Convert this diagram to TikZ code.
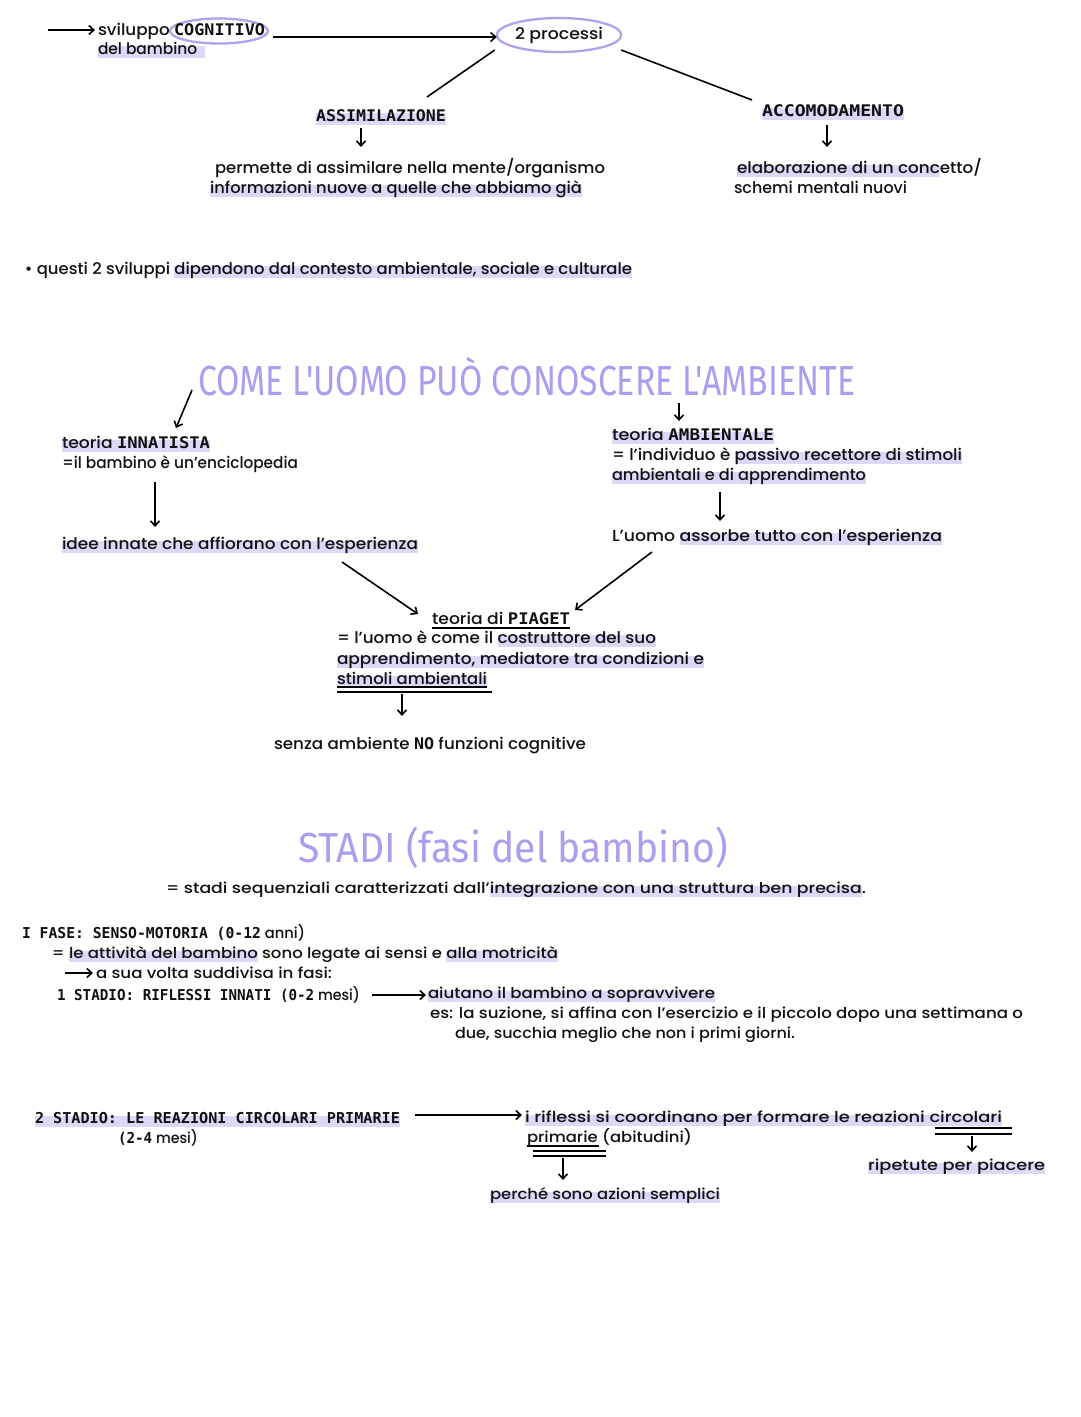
\documentclass[tikz,border=0pt]{standalone}
\usepackage{fontspec}
\setmainfont{Poppins}[UprightFont={* Medium}]
\newfontfamily\monof{DejaVu Sans Mono}
\newfontfamily\titlef{Fira Sans}
\usetikzlibrary{arrows.meta,shapes.geometric,calc}
\definecolor{lav}{HTML}{A99FF0}
\definecolor{hlc}{HTML}{DCD8F8}
\definecolor{ellc}{HTML}{ADA3EE}
\definecolor{ink}{HTML}{111111}
\newlength\hlw
\newcommand\hl[1]{\settowidth{\hlw}{#1}\rlap{\textcolor{hlc}{\rule[-0.45ex]{\hlw}{1.35ex}}}#1}
\newcommand\fw[2]{\resizebox{#1pt}{\height}{\color{ink}#2}}
\newcommand\cp[1]{{\monof\bfseries #1}}
\begin{document}
\begin{tikzpicture}[x=1pt,y=-1pt,
  every node/.style={inner sep=0pt,outer sep=0pt},
  ln/.style={anchor=base west,font=\fontsize{16}{20}\selectfont},
  sm/.style={anchor=base west,font=\fontsize{15}{18}\selectfont},
  ttl/.style={anchor=base west,font=\titlef\fontsize{42}{44}\selectfont},
  arr/.style={line width=1.6pt,-{Straight Barb[length=5pt,width=9pt]}},
  con/.style={line width=1.6pt},
  ell/.style={ellipse,draw=ellc,line width=2.3pt},
  ul/.style={line width=1.3pt},
  ulb/.style={line width=2.4pt}]
\fill[white] (0,0) rectangle (1080,1417);
\useasboundingbox (0,0) rectangle (1080,1417);

% ---------- section 1 ----------
\node[ell,minimum width=98pt,minimum height=25pt] (e1) at (219,31) {};
\node[ln] (s1) at (98,35) {\fw{167}{sviluppo \cp{COGNITIVO}}};
\node[ln] (s2) at (98,54) {\fw{107}{\hl{del bambino\hspace{8pt}}}};
\node[ell,minimum width=108pt,minimum height=34pt,font=\fontsize{16}{20}\selectfont] (p) at (559,35) {\fw{88}{2 processi}};
\coordinate (st) at (48,30);
\node[ln] (a) at (316,121) {\fw{130}{\hl{\cp{ASSIMILAZIONE}}}};
\node[ln] (a1) at (215,173) {\fw{390}{permette di assimilare nella mente/organismo}};
\node[ln] (a2) at (210,193) {\fw{372}{\hl{informazioni nuove a quelle che abbiamo già}}};
\node[ln] (c) at (762,116) {\fw{142}{\hl{\cp{ACCOMODAMENTO}}}};
\node[ln] (c1) at (737,173) {\fw{245}{\hl{elaborazione di un conc}etto/}};
\node[ln] (c2) at (734,193) {\fw{173}{schemi mentali nuovi}};
\node[ln] (q) at (25,274) {\fw{607}{• questi 2 sviluppi \hl{dipendono dal contesto ambientale, sociale e culturale}}};

\draw[arr] (st) -- ($(s1.base west)+(-3,-5)$);
\draw[arr] ($(e1.east)+(5,6)$) -- ($(p.west)+(0,2)$);
\draw[con] ($(p.west)+(-2,15)$) -- ($(a.base west)+(111,-24)$);
\draw[con] ($(p.east)+(0,15)$) -- ($(c.base west)+(-10,-16)$);
\draw[arr] ($(a.base west)+(45,7)$) -- ($(a1.base west)+(146,-26)$);
\draw[arr] ($(c.base west)+(65,9)$) -- ($(c1.base west)+(90,-26)$);

% ---------- section 2 ----------
\node[ttl] (t1) at (198,395) {\resizebox{657pt}{\height}{\color{lav}COME L'UOMO PUÒ CONOSCERE L'AMBIENTE}};
\node[ln] (i1) at (62,448) {\fw{148}{\hl{teoria \cp{INNATISTA}}}};
\node[ln] (i2) at (62,468) {\fw{236}{=il bambino è un'enciclopedia}};
\node[ln] (i3) at (62,549) {\fw{356}{\hl{idee innate che affiorano con l'esperienza}}};
\node[ln] (m1) at (612,440) {\fw{162}{\hl{teoria \cp{AMBIENTALE}}}};
\node[ln] (m2) at (612,460) {\fw{350}{= l'individuo è \hl{passivo recettore di stimoli}}};
\node[ln] (m3) at (612,480) {\fw{254}{\hl{ambientali e di apprendimento}}};
\node[ln] (m4) at (612,541) {\fw{330}{L'uomo \hl{assorbe tutto con l'esperienza}}};
\node[ln] (g1) at (432,624) {\fw{138}{teoria di \cp{PIAGET}}};
\node[ln] (g2) at (337,643) {\fw{319}{= l'uomo è come il \hl{costruttore del suo}}};
\node[ln] (g3) at (337,664) {\fw{367}{\hl{apprendimento, mediatore tra condizioni e}}};
\node[ln] (g4) at (337,684) {\fw{150}{\hl{stimoli ambientali}}};
\node[ln] (g5) at (274,749) {\fw{312}{senza ambiente \cp{NO} funzioni cognitive}};

\draw[arr] ($(t1.base west)+(-6,-5)$) -- ($(i1.base west)+(114,-20)$);
\draw[arr] ($(t1.base west)+(481,8)$) -- ($(m1.base west)+(67,-19)$);
\draw[arr] ($(i2.base west)+(93,14)$) -- ($(i3.base west)+(93,-22)$);
\draw[arr] ($(m3.base west)+(108,12)$) -- ($(m4.base west)+(108,-20)$);
\draw[arr] ($(i3.base west)+(280,13)$) -- ($(g1.base west)+(-14,-10)$);
\draw[arr] ($(m4.base west)+(40,11)$) -- ($(g1.base east)+(5,-14)$);
\draw[ul] ($(g1.base west)+(0,4)$) -- ($(g1.base east)+(0,4)$);
\draw[ul] ($(g4.base west)+(0,3)$) -- ($(g4.base east)+(0,3)$);
\draw[ulb] ($(g4.base west)+(0,8)$) -- ($(g4.base east)+(5,8)$);
\draw[arr] ($(g4.base west)+(65,10)$) -- ($(g5.base west)+(128,-33)$);

% ---------- section 3 ----------
\node[ttl] (t2) at (298,862) {\resizebox{430pt}{\height}{\color{lav}STADI (fasi del bambino)}};
\node[sm] (d1) at (166,893) {\fw{700}{= stadi sequenziali caratterizzati dall'\hl{integrazione con una struttura ben precisa}.}};
\node[sm] (f1) at (22,938) {\fw{283}{\cp{I FASE: SENSO-MOTORIA (0-12} anni)}};
\node[sm] (f2) at (52,958) {\fw{506}{= \hl{le attività del bambino} sono legate ai sensi e \hl{alla motricità}}};
\coordinate (f3s) at (65,973);
\node[sm] (f3) at (96,978) {\fw{236}{a sua volta suddivisa in fasi:}};
\node[sm] (f4) at (57,1000) {\fw{303}{\cp{1 STADIO: RIFLESSI INNATI (0-2} mesi)}};
\node[sm] (f5) at (428,998) {\fw{287}{\hl{aiutano il bambino a sopravvivere}}};
\node[sm] (f6) at (430,1018) {\fw{593}{es: la suzione, si affina con l'esercizio e il piccolo dopo una settimana o}};
\node[sm] (f7) at (455,1038) {\fw{340}{due, succhia meglio che non i primi giorni.}};
\node[sm] (h1) at (35,1123) {\fw{365}{\hl{\cp{2 STADIO: LE REAZIONI CIRCOLARI PRIMARIE}}}};
\node[sm] (h2) at (118,1143) {\fw{80}{\cp{(2-4} mesi)}};
\node[sm] (r1) at (525,1122) {\fw{477}{\hl{i riflessi si coordinano per formare le reazioni circolari}}};
\node[sm] (r2) at (527,1142) {\fw{165}{primarie (abitudini)}};
\node[sm] (r3) at (490,1199) {\fw{230}{\hl{perché sono azioni semplici}}};
\node[sm] (r4) at (868,1170) {\fw{177}{\hl{ripetute per piacere}}};

\draw[arr] (f3s) -- ($(f3.base west)+(-3,-5)$);
\draw[arr] ($(f4.base east)+(12,-5)$) -- ($(f5.base west)+(-2,-3)$);
\draw[arr] ($(h1.base east)+(15,-8)$) -- ($(r1.base west)+(-3,-7)$);
\draw[ul] ($(r2.base west)+(0,4)$) -- ($(r2.base west)+(72,4)$);
\draw[ulb] ($(r2.base west)+(6,9)$) -- ($(r2.base west)+(79,9)$);
\draw[ulb] ($(r2.base west)+(6,14)$) -- ($(r2.base west)+(79,14)$);
\draw[arr] ($(r2.base west)+(36,16)$) -- ($(r3.base west)+(73,-19)$);
\draw[ulb] ($(r1.base west)+(410,6)$) -- ($(r1.base west)+(487,6)$);
\draw[ulb] ($(r1.base west)+(410,12)$) -- ($(r1.base west)+(487,12)$);
\draw[arr] ($(r1.base west)+(447,14)$) -- ($(r4.base west)+(104,-18)$);
\end{tikzpicture}
\end{document}
